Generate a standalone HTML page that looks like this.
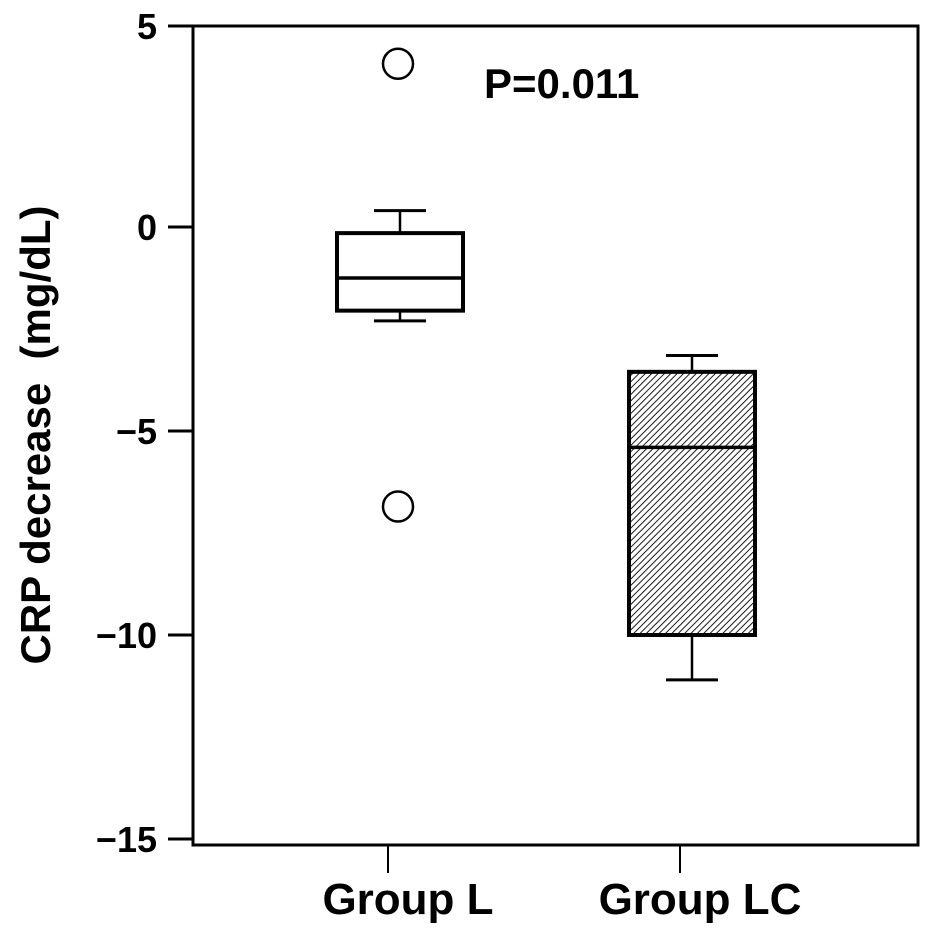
<!DOCTYPE html>
<html><head><meta charset="utf-8"><style>
html,body{margin:0;padding:0;background:#fff;}
svg text{font-family:"Liberation Sans",sans-serif;font-weight:bold;fill:#000;}
</style></head><body>
<svg id="chart" width="945" height="937" viewBox="0 0 945 937">
<defs>
<pattern id="hatch" patternUnits="userSpaceOnUse" width="4.5" height="4.5" patternTransform="rotate(45)">
<rect width="4.5" height="4.5" fill="#fff"/><line x1="0" y1="0" x2="0" y2="4.5" stroke="#000" stroke-width="1.8"/>
</pattern>
</defs>
<g id="axes"></g>
<g id="marks"></g>
<text x="484" y="98" font-size="42">P=0.011</text>
<text transform="translate(50,435) rotate(-90)" text-anchor="middle" font-size="42">CRP decrease&#160;&#160;(mg/dL)</text>
</svg>
<script>
const categories = ["Group L", "Group LC"];
const whiskerLow = [-2.3, -11.1];
const q1 = [-2.05, -10.0];
const medians = [-1.25, -5.4];
const q3 = [-0.15, -3.55];
const whiskerHigh = [0.4, -3.15];
const outlierGroup = [0, 0];
const outlierValues = [4.0, -6.85];
const yTicks = [5, 0, -5, -10, -15];
const yTickLabels = ["5", "0", "\u22125", "\u221210", "\u221215"];

const NS = "http://www.w3.org/2000/svg";
const L = 193, R = 918, T = 26, B = 845;
function y(v){ return 227 - v * 40.8; }
const xCenters = [394, 686];
function x(i){ return xCenters[i]; }
function mk(tag, attrs, parent){
  const e = document.createElementNS(NS, tag);
  for (const k in attrs) e.setAttribute(k, attrs[k]);
  parent.appendChild(e); return e;
}
const axes = document.getElementById('axes');
const marks = document.getElementById('marks');
const frame = mk('rect', {x:L, y:T, width:R-L, height:B-T, fill:'none', stroke:'#000', 'stroke-width':3}, axes);


yTicks.forEach((v, i) => {
  const yy = Math.min(Math.max(y(v), T), B);
  const t = mk('line', {x1:L-25, x2:L, y1:yy, y2:yy, stroke:'#000', 'stroke-width':3}, axes);
  
  
  const lb = mk('text', {x:157, y:yy+13, 'text-anchor':'end', 'font-size':36}, axes);
  lb.textContent = yTickLabels[i];
  
  
});
categories.forEach((c, i) => {
  const t = mk('line', {x1:x(i)-6, x2:x(i)-6, y1:B, y2:B+28, stroke:'#000', 'stroke-width':2}, axes);
  
  
  const lb = mk('text', {x:x(i)+14, y:914, 'text-anchor':'middle', 'font-size':44}, axes);
  lb.textContent = c;
  
  
  const cx = x(i) + 6, hw = 63, cap = 26;
  const w1 = mk('line', {x1:cx, x2:cx, y1:y(whiskerHigh[i]), y2:y(q3[i]), stroke:'#000', 'stroke-width':2.5}, marks);
  
  
  const c1 = mk('line', {x1:cx-cap, x2:cx+cap, y1:y(whiskerHigh[i]), y2:y(whiskerHigh[i]), stroke:'#000', 'stroke-width':3}, marks);
  
  
  const w2 = mk('line', {x1:cx, x2:cx, y1:y(q1[i]), y2:y(whiskerLow[i]), stroke:'#000', 'stroke-width':2.5}, marks);
  
  
  const c2 = mk('line', {x1:cx-cap, x2:cx+cap, y1:y(whiskerLow[i]), y2:y(whiskerLow[i]), stroke:'#000', 'stroke-width':3}, marks);
  
  
  const bx = mk('rect', {x:cx-hw, y:y(q3[i]), width:2*hw, height:y(q1[i])-y(q3[i]), fill: i===1 ? 'url(#hatch)' : '#fff', stroke:'#000', 'stroke-width':4}, marks);
  
  
  const md = mk('line', {x1:cx-hw, x2:cx+hw, y1:y(medians[i]), y2:y(medians[i]), stroke:'#000', 'stroke-width':3.5}, marks);
  
  
});
outlierValues.forEach((v, k) => {
  const o = mk('ellipse', {cx:x(outlierGroup[k])+4, cy:y(v), rx:15, ry:15, fill:'#fff', stroke:'#000', 'stroke-width':2.5}, marks);
  
  
});
</script>
</body></html>
